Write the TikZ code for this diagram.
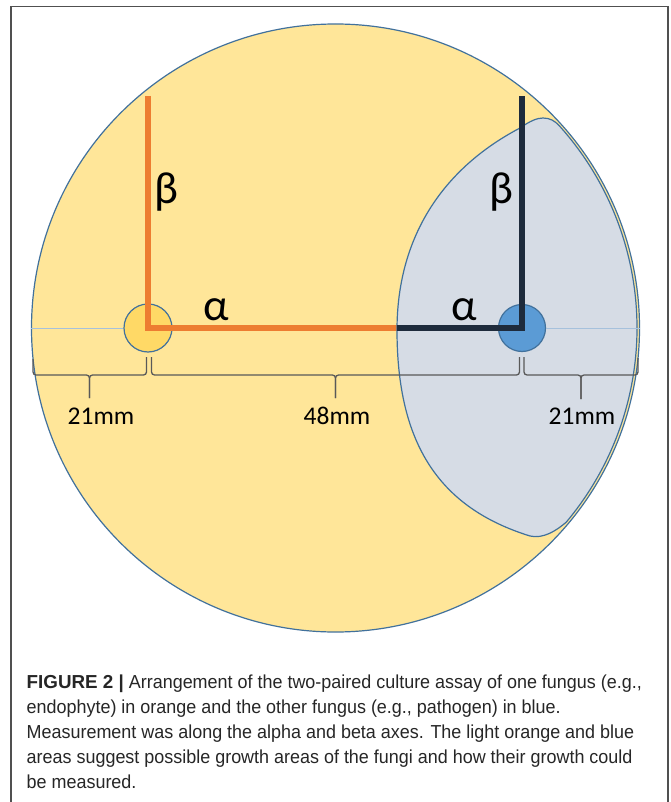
\documentclass[tikz,border=0pt]{standalone}
\usepackage{fontspec}
\newfontfamily\carlito{Carlito}
\newfontfamily\capfont[FakeStretch=0.955]{Liberation Sans}
\newfontfamily\capboldfont{Liberation Sans}
\definecolor{dishfill}{HTML}{FFE699}
\definecolor{dishline}{HTML}{41719C}
\definecolor{bluearea}{HTML}{D6DCE5}
\definecolor{orgfill}{HTML}{FFD966}
\definecolor{blufill}{HTML}{5B9BD5}
\definecolor{orgline}{HTML}{ED7D31}
\definecolor{navyline}{HTML}{1E2B3C}
\definecolor{thinblue}{HTML}{A6C1DC}
\definecolor{bracegray}{HTML}{595959}
\definecolor{captext}{HTML}{262626}
\definecolor{framegray}{HTML}{505050}
\begin{document}
\begin{tikzpicture}[x=1pt,y=-1pt,
  outl/.style={draw=dishline, line width=1.2pt},
  axisorg/.style={draw=orgline, line width=5.6pt, line join=miter},
  axisnavy/.style={draw=navyline, line width=5.6pt, line join=miter},
  thinl/.style={draw=thinblue, line width=1pt},
  brc/.style={draw=bracegray, line width=1.3pt, rounded corners=3pt},
  mmlbl/.style={font=\carlito\fontsize{25.5}{29}\selectfont, text=black, inner sep=0pt},
  greek/.style={font=\carlito\fontsize{45}{50}\selectfont, text=black, inner sep=0pt},
  capline/.style={font=\capfont\fontsize{18.8}{22}\selectfont, text=captext, inner sep=0pt, anchor=base west},
  framel/.style={draw=framegray, line width=1.4pt}]
\useasboundingbox (0,0) rectangle (671,802);
\fill[white] (0,0) rectangle (671,802);

% frame
\coordinate (fbl) at (11,802);
\coordinate (ftl) at (11,6.5);
\coordinate (ftr) at (668,6.5);
\coordinate (fbr) at (668,802);
\draw[framel] (fbl) -- (ftl) -- (ftr) -- (fbr);

% dish
\node[circle, outl, fill=dishfill, minimum size=608pt, inner sep=0pt] (dish) at (335.5,328) {};

% small orange culture
\node[circle, outl, fill=orgfill, minimum size=48pt, inner sep=0pt] (orgc) at (148,328) {};
\draw[thinl] (dish.west) -- (orgc.west);

% orange axes
\coordinate (otop) at (148,96);
\coordinate (meet) at (397,328);
\draw[axisorg] (otop) -- (orgc.center) -- (meet);

% blue growth area
\draw[outl, fill=bluearea]
  (543,118) .. controls (550,118) and (555,121) .. (559.4,125.9)
  .. controls (609.3,181.3) and (637,253.4) .. (637,328)
  .. controls (637,399) and (611.9,467.7) .. (566.3,522.1)
  .. controls (556,531) and (543,539) .. (530,536)
  .. controls (440,508) and (397,445) .. (397,330)
  .. controls (397,240) and (440,170) .. (520,128)
  .. controls (530,121) and (537,118) .. (543,118) -- cycle;

% blue culture
\node[circle, outl, fill=blufill, minimum size=47pt, inner sep=0pt] (bluc) at (522,328) {};
\draw[thinl] (bluc.east) -- (dish.east);

% navy axes
\coordinate (ntop) at (522,96);
\draw[axisnavy] (meet) -- (bluc.center) -- (ntop);

% greek labels
\node[greek] (betaL) at (166.5,192) {β};
\node[greek] (alphaL) at (216,310) {α};
\node[greek] (betaR) at (501,192) {β};
\node[greek] (alphaR) at (464,310) {α};

% braces
\coordinate (b1a) at (33,359);
\coordinate (b1b) at (146.5,357);
\coordinate (b1t) at (89.5,398);
\coordinate (b2a) at (151.5,357);
\coordinate (b2b) at (519.5,357);
\coordinate (b2t) at (335.5,398);
\coordinate (b3a) at (524,357);
\coordinate (b3b) at (638,358);
\coordinate (b3t) at (581,399);
\draw[brc] (b1a) -- (b1a |- 0,375) -- (b1t |- 0,375) -- (b1t);
\draw[brc] (b1b) -- (b1b |- 0,375) -- (b1t |- 0,375) -- (b1t);
\draw[brc] (b2a) -- (b2a |- 0,375) -- (b2t |- 0,375) -- (b2t);
\draw[brc] (b2b) -- (b2b |- 0,375) -- (b2t |- 0,375) -- (b2t);
\draw[brc] (b3a) -- (b3a |- 0,375) -- (b3t |- 0,375) -- (b3t);
\draw[brc] (b3b) -- (b3b |- 0,375) -- (b3t |- 0,375) -- (b3t);

\node[mmlbl] (m1) at (101,416) {21mm};
\node[mmlbl] (m2) at (337,416) {48mm};
\node[mmlbl] (m3) at (582,416) {21mm};

% caption
\node[capline] (c1) at (26.5,688) {{\capboldfont\bfseries FIGURE 2 |} Arrangement of the two-paired culture assay of one fungus (e.g.,};
\node[capline] (c2) at (26.5,713) {endophyte) in orange and the other fungus (e.g., pathogen) in blue.};
\node[capline] (c3) at (26.5,738) {Measurement was along the alpha and beta axes. The light orange and blue};
\node[capline] (c4) at (26.5,763) {areas suggest possible growth areas of the fungi and how their growth could};
\node[capline] (c5) at (26.5,788) {be measured.};
\end{tikzpicture}
\end{document}
